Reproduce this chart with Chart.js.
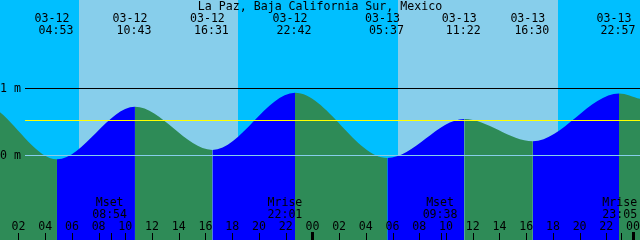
<!DOCTYPE html>
<html>
<head>
<meta charset="utf-8">
<script src="https://cdn.jsdelivr.net/npm/chart.js@4/dist/chart.umd.min.js"></script>
<style>
  body { margin: 0; background: #00bfff; }
  canvas { display: block; }
</style>
</head>
<body>
<canvas id="tideChart" width="640" height="240"></canvas>
<script>
const TITLE = "La Paz, Baja California Sur, Mexico";

// hours counted from 03-12 00:00
const X_MIN = 0.62;
const X_MAX = 48.52;

const edgeHours = [0.62, 48.52];
const edgeHeights = [0.64, 0.84];

const extremeHours = [4.883, 10.717, 16.517, 22.7, 29.617, 35.367, 40.5, 46.95];
const extremeHeights = [-0.06, 0.72, 0.08, 0.93, -0.04, 0.54, 0.21, 0.92];
const extremeDates = ["03-12", "03-12", "03-12", "03-12", "03-13", "03-13", "03-13", "03-13"];
const extremeTimes = ["04:53", "10:43", "16:31", "22:42", "05:37", "11:22", "16:30", "22:57"];

const sunriseHours = [6.53, 30.42];
const sunsetHours = [18.43, 42.4];

const moonHours = [8.9, 22.017, 33.633, 47.083];
const moonNames = ["Mset", "Mrise", "Mset", "Mrise"];
const moonTimes = ["08:54", "22:01", "09:38", "23:05"];

const hourTicks = [2, 4, 6, 8, 10, 12, 14, 16, 18, 20, 22, 24, 26, 28, 30, 32, 34, 36, 38, 40, 42, 44, 46, 48];
const hourLabels = ["02", "04", "06", "08", "10", "12", "14", "16", "18", "20", "22", "00",
                    "02", "04", "06", "08", "10", "12", "14", "16", "18", "20", "22", "00"];

const levelValues = [1, 0.52, 0];
const levelColors = ["#000000", "#ffff00", "#87ceeb"];
const axisLabels = [{ v: 1, t: "1 m" }, { v: 0, t: "0 m" }];

const NIGHT = "#00bfff";
const DAY = "#87ceeb";
const RISING = "#0000ff";
const FALLING = "#2e8b57";
const FONT = '11.6px "DejaVu Sans Mono"';

const tidePoints = [{ x: edgeHours[0], y: edgeHeights[0] }];
extremeHours.forEach((h, i) => tidePoints.push({ x: h, y: extremeHeights[i] }));
tidePoints.push({ x: edgeHours[1], y: edgeHeights[1] });

const tidePlugin = {
  id: "tideDecor",
  beforeDatasetsDraw(chart) {
    const { ctx, chartArea: a, scales: { x } } = chart;
    ctx.save();
    ctx.fillStyle = NIGHT;
    ctx.fillRect(a.left, a.top, a.width, a.height);
    ctx.fillStyle = DAY;
    sunriseHours.forEach((r, i) => {
      const x0 = Math.round(x.getPixelForValue(r));
      const x1 = Math.round(x.getPixelForValue(sunsetHours[i]));
      ctx.fillRect(x0, a.top, x1 - x0, a.height);
    });
    ctx.restore();
  },
  afterDatasetsDraw(chart) {
    const { ctx, chartArea: a, scales: { x, y } } = chart;
    ctx.save();

    // reference levels
    levelValues.forEach((v, i) => {
      ctx.fillStyle = levelColors[i];
      ctx.fillRect(25, Math.round(y.getPixelForValue(v)), a.right - 25, 1);
    });

    ctx.font = FONT;
    ctx.fillStyle = "#000000";
    ctx.textBaseline = "alphabetic";

    ctx.textAlign = "left";
    axisLabels.forEach((l) => {
      ctx.fillText(l.t, 0, Math.round(y.getPixelForValue(l.v)) + 4);
    });

    ctx.textAlign = "center";
    ctx.fillText(TITLE, 320, 10);

    extremeHours.forEach((h, i) => {
      const px = x.getPixelForValue(h);
      ctx.fillText(extremeDates[i], px - 5, 22);
      ctx.fillText(extremeTimes[i], px - 1, 34);
    });

    moonHours.forEach((h, i) => {
      const px = x.getPixelForValue(h);
      ctx.fillText(moonNames[i], px - 1, 206);
      ctx.fillText(moonTimes[i], px - 1, 218);
      ctx.fillRect(Math.round(px), 233, 1, 7);
    });

    hourTicks.forEach((h, i) => {
      const px = x.getPixelForValue(h);
      ctx.fillText(hourLabels[i], px, 230);
      if (hourLabels[i] === "00") {
        ctx.fillRect(Math.round(px) - 1, 232, 3, 8);
      } else {
        ctx.fillRect(Math.round(px), 233, 1, 7);
      }
    });

    ctx.restore();
  },
};

const tideChart = new Chart(document.getElementById("tideChart"), {
  type: "line",
  data: {
    datasets: [
      {
        data: tidePoints,
        borderWidth: 0,
        pointRadius: 0,
        cubicInterpolationMode: "monotone",
        fill: "start",
        backgroundColor: FALLING,
        segment: {
          backgroundColor: (c) => (c.p1.parsed.y > c.p0.parsed.y ? RISING : FALLING),
        },
      },
    ],
  },
  options: {
    responsive: false,
    animation: false,
    devicePixelRatio: 1,
    layout: { padding: 0 },
    plugins: {
      legend: { display: false },
      tooltip: { enabled: false },
    },
    scales: {
      x: { type: "linear", min: X_MIN, max: X_MAX, display: false },
      y: { min: -1.2585, max: 2.3076, display: false },
    },
  },
  plugins: [tidePlugin],
});
</script>
</body>
</html>
